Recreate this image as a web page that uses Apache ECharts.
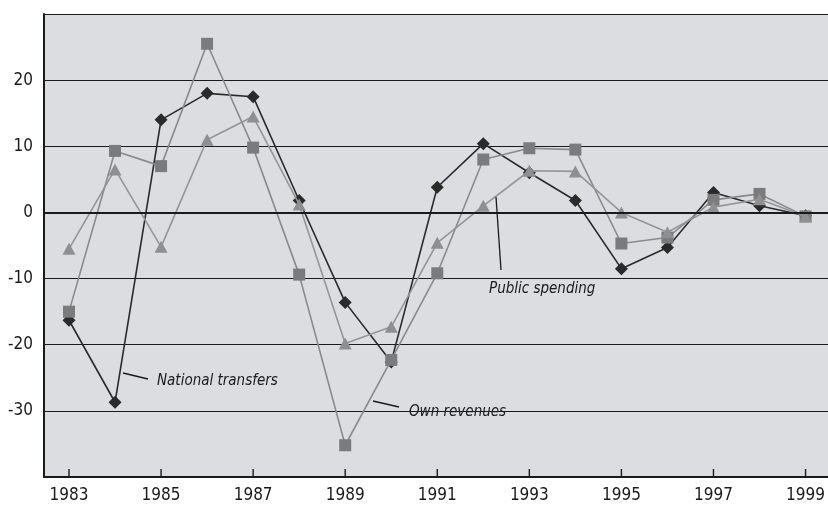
<!DOCTYPE html>
<html>
<head>
<meta charset="utf-8">
<script src="https://cdn.jsdelivr.net/npm/echarts@6/dist/echarts.min.js"></script>
<style>html,body{margin:0;padding:0;background:#fff}#c{width:828px;height:505px}</style>
</head>
<body>
<div id="c"></div>
<script>
var years = [1983,1984,1985,1986,1987,1988,1989,1990,1991,1992,1993,1994,1995,1996,1997,1998,1999];
var tickYears = [1983,1985,1987,1989,1991,1993,1995,1997,1999];
var nationalTransfers = [-16.3,-28.7,14,18,17.5,1.8,-13.6,-22.6,3.8,10.4,6,1.8,-8.5,-5.3,3,1,-0.5];
var ownRevenues = [-15,9.3,7,25.5,9.8,-9.4,-35.2,-22.3,-9.2,8,9.7,9.5,-4.7,-3.8,1.9,2.8,-0.6];
var publicSpending = [-5.5,6.5,-5.2,11,14.5,1.2,-19.8,-17.3,-4.6,1,6.3,6.2,0,-3,0.8,2,-0.6];
var yLabels = [-30,-20,-10,0,10,20];
var yMin = -40, yMax = 30;

function pairs(v){ return years.map(function(y,i){ return [y, v[i]]; }); }
var font = '"DejaVu Sans Condensed", "Liberation Sans Narrow", sans-serif';
var ink = '#1a1a1a';
var chart = echarts.init(document.getElementById('c'), null, {renderer:'canvas'});
chart.setOption({
  animation:false,
  grid:[
    {left:44, right:0, top:14, bottom:28, show:true, backgroundColor:'#dcdde0', borderWidth:0},
    {left:69, right:19.5, top:14, bottom:28, show:false}
  ],
  xAxis:[{
    gridIndex:0, type:'value', min:0, max:1,
    axisLine:{show:true, onZero:false, lineStyle:{color:ink, width:2}},
    axisTick:{show:false}, axisLabel:{show:false}, splitLine:{show:false}
  },{
    gridIndex:0, type:'value', position:'top', min:0, max:1,
    axisLine:{show:true, lineStyle:{color:ink, width:2}},
    axisTick:{show:false}, axisLabel:{show:false}, splitLine:{show:false}
  },{
    gridIndex:1, type:'value', min:1983, max:1999, interval:2,
    axisLine:{show:false, onZero:false},
    axisTick:{show:false},
    axisLabel:{fontFamily:font, fontSize:17, color:ink, margin:10,
      formatter:function(v){ return String(Math.round(v)); }},
    splitLine:{show:false}
  }],
  yAxis:[{
    gridIndex:0, type:'value', min:yMin, max:yMax, interval:10,
    axisLine:{show:true, lineStyle:{color:ink, width:2}},
    axisTick:{show:false},
    axisLabel:{fontFamily:font, fontSize:17, color:ink, margin:11,
      formatter:function(v){ return yLabels.indexOf(v) >= 0 ? String(v) : ''; }},
    splitLine:{show:true, lineStyle:{color:ink, width:1}}
  },{
    gridIndex:1, type:'value', min:yMin, max:yMax, interval:10,
    axisLine:{show:false}, axisTick:{show:false}, axisLabel:{show:false}, splitLine:{show:false}
  }],
  series:[{
    type:'line', xAxisIndex:0, yAxisIndex:0, data:[], silent:true,
    markLine:{silent:true, symbol:'none', label:{show:false},
      lineStyle:{color:ink, width:2, type:'solid'}, data:[{yAxis:0}]},
    z:1
  },{
    type:'custom', xAxisIndex:2, yAxisIndex:1, silent:true, clip:false,
    data:tickYears.map(function(y){ return [y, yMin]; }),
    encode:{x:0, y:1},
    renderItem:function(params, api){
      var p = api.coord([api.value(0), api.value(1)]);
      return {type:'line', shape:{x1:p[0], y1:p[1], x2:p[0], y2:p[1]-8},
        style:{stroke:ink, lineWidth:1.4}};
    },
    z:5
  },{
    name:'National transfers', type:'line', xAxisIndex:2, yAxisIndex:1, data:pairs(nationalTransfers),
    symbol:'diamond', symbolSize:[13,13], clip:false,
    lineStyle:{color:'#2a2a2a', width:1.6}, itemStyle:{color:'#2a2a2a'}, z:2
  },{
    name:'Own revenues', type:'line', xAxisIndex:2, yAxisIndex:1, data:pairs(ownRevenues),
    symbol:'rect', symbolSize:12, clip:false,
    lineStyle:{color:'#8a8a8c', width:1.6}, itemStyle:{color:'#7b7b7d'}, z:3
  },{
    name:'Public spending', type:'line', xAxisIndex:2, yAxisIndex:1, data:pairs(publicSpending),
    symbol:'triangle', symbolSize:[13,12], clip:false,
    lineStyle:{color:'#959597', width:1.6}, itemStyle:{color:'#8f8f91'}, z:4
  }],
  graphic:[
    {type:'line', shape:{x1:123,y1:373,x2:148,y2:379}, style:{stroke:ink, lineWidth:1.3}, z:10},
    {type:'text', left:157, top:374, style:{text:'National transfers', font:'italic 15px '+font, fill:ink}, z:10},
    {type:'line', shape:{x1:373,y1:401,x2:399,y2:407}, style:{stroke:ink, lineWidth:1.3}, z:10},
    {type:'text', left:409, top:405, style:{text:'Own revenues', font:'italic 15px '+font, fill:ink}, z:10},
    {type:'line', shape:{x1:496,y1:197,x2:501,y2:270}, style:{stroke:ink, lineWidth:1.3}, z:10},
    {type:'text', left:489, top:282, style:{text:'Public spending', font:'italic 15px '+font, fill:ink}, z:10}
  ]
});
</script>
</body>
</html>
